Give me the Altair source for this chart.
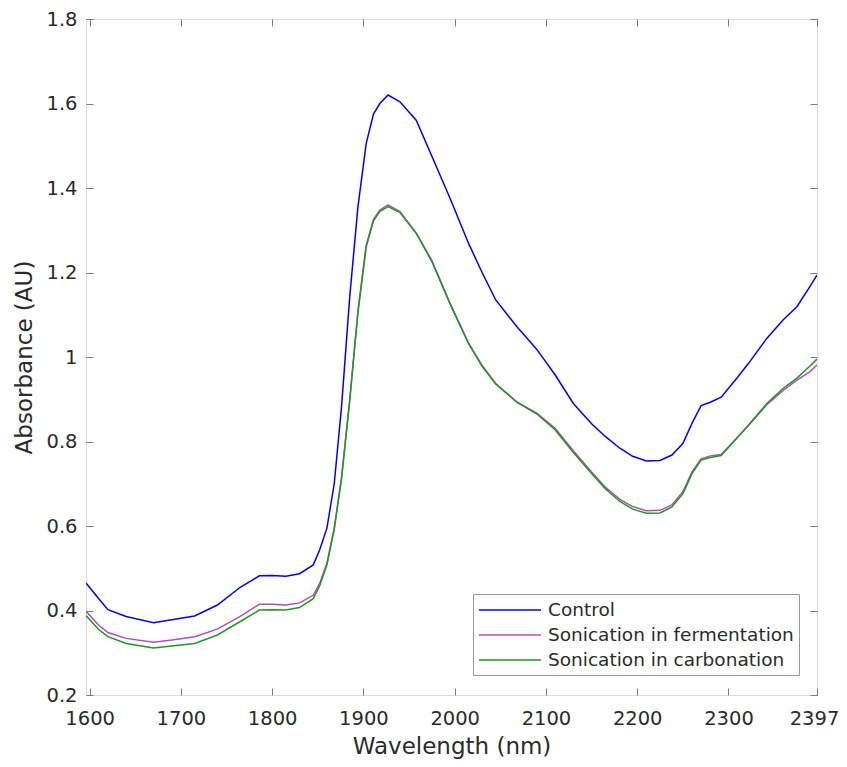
import altair as alt
import pandas as pd

wavelength = [1596, 1610, 1620, 1640, 1670, 1690, 1715, 1740, 1765, 1786, 1800, 1815,
              1830, 1845, 1852, 1860, 1868, 1876, 1885, 1894, 1903, 1911, 1918, 1927,
              1940, 1958, 1975, 1995, 2015, 2030, 2045, 2068, 2090, 2110, 2130, 2150,
              2165, 2181, 2195, 2210, 2225, 2238, 2250, 2260, 2270, 2280, 2292, 2310,
              2322, 2342, 2360, 2375, 2389, 2397]

control = [0.465, 0.428, 0.402, 0.386, 0.371, 0.378, 0.387, 0.413, 0.455, 0.482, 0.483, 0.481,
           0.487, 0.508, 0.543, 0.595, 0.700, 0.882, 1.143, 1.356, 1.505, 1.575, 1.600, 1.620,
           1.604, 1.560, 1.475, 1.375, 1.270, 1.200, 1.135, 1.072, 1.018, 0.958, 0.890, 0.842,
           0.812, 0.784, 0.765, 0.754, 0.755, 0.768, 0.795, 0.843, 0.885, 0.893, 0.905, 0.952,
           0.985, 1.044, 1.088, 1.119, 1.166, 1.194]

fermentation = [0.398, 0.365, 0.348, 0.334, 0.325, 0.330, 0.338, 0.356, 0.386, 0.415, 0.415, 0.413,
                0.418, 0.436, 0.464, 0.512, 0.595, 0.715, 0.900, 1.110, 1.265, 1.326, 1.348, 1.360,
                1.344, 1.293, 1.228, 1.127, 1.034, 0.980, 0.937, 0.894, 0.867, 0.831, 0.778, 0.728,
                0.692, 0.663, 0.646, 0.636, 0.637, 0.650, 0.681, 0.728, 0.759, 0.766, 0.769, 0.810,
                0.838, 0.887, 0.921, 0.945, 0.965, 0.981]

carbonation = [0.388, 0.355, 0.338, 0.322, 0.311, 0.316, 0.322, 0.342, 0.374, 0.401, 0.402, 0.401,
               0.407, 0.428, 0.458, 0.508, 0.592, 0.712, 0.897, 1.105, 1.260, 1.322, 1.345, 1.356,
               1.342, 1.292, 1.226, 1.125, 1.032, 0.978, 0.936, 0.893, 0.865, 0.828, 0.774, 0.724,
               0.688, 0.658, 0.640, 0.630, 0.631, 0.645, 0.676, 0.724, 0.756, 0.762, 0.767, 0.810,
               0.839, 0.890, 0.926, 0.950, 0.978, 0.995]

series_names = ["Control", "Sonication in fermentation", "Sonication in carbonation"]
series_colors = ["#0000ff", "#b04fb3", "#1d9a1d"]

x_ticks = [1600, 1700, 1800, 1900, 2000, 2100, 2200, 2300, 2397]
y_ticks = [0.2, 0.4, 0.6, 0.8, 1.0, 1.2, 1.4, 1.6, 1.8]

rows = []
for name, vals in zip(series_names, [control, fermentation, carbonation]):
    for w, v in zip(wavelength, vals):
        rows.append({"Wavelength": w, "Absorbance": v, "Series": name})
df = pd.DataFrame(rows)

FONT = "DejaVu Sans"
TXT = "#2b2b2b"
AX = "#7a7a7a"
TL = 7

xscale = alt.Scale(domain=[1596, 2397], nice=False, zero=False)
yscale = alt.Scale(domain=[0.2, 1.8], nice=False, zero=False)

lines = alt.Chart(df).mark_line(strokeWidth=1.5, clip=True).encode(
    x=alt.X("Wavelength:Q", scale=xscale,
            axis=alt.Axis(orient="bottom", values=x_ticks, format="d", title="Wavelength (nm)",
                          ticks=False, domain=False, grid=False, labelPadding=14,
                          labelOffset={"condition": {"test": "datum.value >= 2390", "value": -3},
                                       "value": 0},
                          labelFlush=False, labelOverlap=False, labelFontSize=19.5,
                          titleFontSize=23, titlePadding=8, labelColor=TXT, titleColor=TXT,
                          labelFont=FONT, titleFont=FONT, titleFontWeight="normal")),
    y=alt.Y("Absorbance:Q", scale=yscale,
            axis=alt.Axis(orient="left", values=y_ticks, format="~g", title="Absorbance (AU)",
                          ticks=False, domain=False, grid=False, labelPadding=9,
                          labelFlush=False, labelOverlap=False, labelFontSize=19.5,
                          titleFontSize=23, titlePadding=9, labelColor=TXT, titleColor=TXT,
                          labelFont=FONT, titleFont=FONT, titleFontWeight="normal")),
    color=alt.Color("Series:N", scale=alt.Scale(domain=series_names, range=series_colors),
                    legend=alt.Legend(orient="none", legendX=387, legendY=575, title=None,
                                      symbolType="M-1,0H5.2", symbolSize=400, symbolStrokeWidth=1.5,
                                      labelFont=FONT, labelFontSize=18.5, labelColor=TXT,
                                      labelOffset=48, rowPadding=4, padding=5, labelLimit=500,
                                      strokeColor="#9a9a9a", fillColor="white")),
    order=alt.Order("Series:N", sort="descending"),
)

def tick_layer(xorient, yorient):
    return alt.Chart(df).mark_line(opacity=0).encode(
        x=alt.X("Wavelength:Q", scale=xscale,
                axis=alt.Axis(orient=xorient, values=x_ticks, labels=False, domain=False,
                              grid=False, ticks=True, tickSize=TL, offset=-TL, tickColor=AX,
                              title=None)),
        y=alt.Y("Absorbance:Q", scale=yscale,
                axis=alt.Axis(orient=yorient, values=y_ticks, labels=False, domain=False,
                              grid=False, ticks=True, tickSize=TL, offset=-TL, tickColor=AX,
                              title=None)),
        detail="Series:N",
    )

chart = alt.layer(lines, tick_layer("bottom", "left"), tick_layer("top", "right")).resolve_axis(
    x="independent", y="independent"
).properties(
    width=731, height=676,
    autosize=alt.AutoSizeParams(type="none"),
    padding={"left": 78, "top": 11, "right": 22, "bottom": 65},
).configure_view(stroke=AX, strokeWidth=1).configure(background="white")

chart.save("out.html", embed_options={"renderer": "svg", "actions": False})
